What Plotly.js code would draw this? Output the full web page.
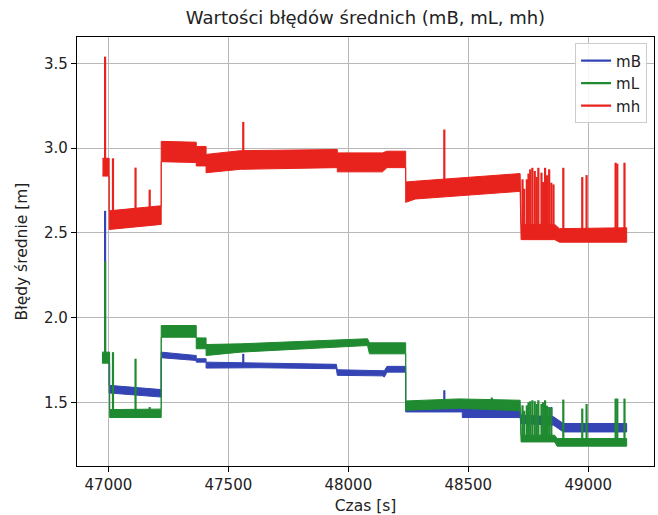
<!DOCTYPE html>
<html>
<head>
<meta charset="utf-8">
<script src="https://cdn.plot.ly/plotly-3.0.1.min.js"></script>
<style>html,body{margin:0;padding:0;background:#fff;}#chart{width:658px;height:515px;}</style>
</head>
<body>
<div id="chart"></div>
<script>
// ---- mB (blue) envelope of the dense series ----
var mB_x  = [46980, 47003, 47003, 47220, 47220, 47366, 47366, 47407, 47407, 47629, 47950, 47954, 48142, 48150, 48161, 48239, 48239, 48475, 48475, 48716, 48720, 48855, 48896, 49160];
var mB_lo = [1.74, 1.74, 1.555, 1.531, 1.763, 1.747, 1.737, 1.737, 1.702, 1.704, 1.698, 1.659, 1.656, 1.649, 1.678, 1.678, 1.443, 1.443, 1.41, 1.41, 1.375, 1.365, 1.325, 1.325];
var mB_hi = [1.79, 1.79, 1.60, 1.575, 1.796, 1.776, 1.757, 1.757, 1.737, 1.731, 1.724, 1.692, 1.686, 1.686, 1.712, 1.712, 1.472, 1.47, 1.463, 1.463, 1.424, 1.415, 1.375, 1.375];
var mB_spikeX    = [46986, 47562, 48400, 48846];
var mB_spikeBase = [1.78, 1.73, 1.47, 1.40];
var mB_spikeTop  = [2.63, 1.786, 1.571, 1.472];

// ---- mL (green) ----
var mL_x  = [46973, 47005, 47005, 47220, 47220, 47366, 47366, 47407, 47407, 47550, 48080, 48088, 48239, 48239, 48460, 48716, 48720, 48860, 48870, 49160];
var mL_lo = [1.731, 1.731, 1.41, 1.41, 1.884, 1.884, 1.816, 1.816, 1.776, 1.796, 1.835, 1.786, 1.786, 1.453, 1.465, 1.45, 1.266, 1.266, 1.241, 1.241];
var mL_hi = [1.796, 1.796, 1.457, 1.46, 1.953, 1.953, 1.880, 1.880, 1.841, 1.845, 1.875, 1.851, 1.851, 1.508, 1.52, 1.512, 1.306, 1.306, 1.286, 1.286];
var mL_spikeX    = [46986, 47019, 47113, 47172, 48598, 48726, 48733, 48744, 48751, 48758, 48767, 48777, 48785, 48792, 48805, 48812, 48820, 48828, 48837, 48846, 48896, 48975, 48993, 49114, 49121, 49151];
var mL_spikeBase = [1.76, 1.43, 1.43, 1.43, 1.48, 1.28, 1.28, 1.28, 1.28, 1.28, 1.28, 1.28, 1.28, 1.28, 1.28, 1.28, 1.28, 1.28, 1.28, 1.28, 1.26, 1.26, 1.26, 1.26, 1.26, 1.26];
var mL_spikeTop  = [2.33, 1.796, 1.757, 1.472, 1.528, 1.482, 1.45, 1.482, 1.50, 1.506, 1.512, 1.506, 1.49, 1.512, 1.49, 1.50, 1.512, 1.48, 1.472, 1.465, 1.516, 1.463, 1.49, 1.522, 1.522, 1.522];

// ---- mh (red) ----
var mh_x  = [46975, 47003, 47003, 47220, 47220, 47366, 47366, 47407, 47407, 47550, 47954, 47954, 48142, 48161, 48239, 48239, 48280, 48716, 48720, 48860, 48880, 49160];
var mh_lo = [2.835, 2.835, 2.52, 2.55, 2.92, 2.915, 2.895, 2.895, 2.855, 2.875, 2.885, 2.86, 2.86, 2.885, 2.885, 2.68, 2.70, 2.745, 2.46, 2.46, 2.445, 2.445];
var mh_hi = [2.94, 2.94, 2.63, 2.66, 3.04, 3.035, 3.01, 3.01, 2.963, 2.985, 2.992, 2.972, 2.972, 2.982, 2.982, 2.80, 2.805, 2.85, 2.55, 2.55, 2.525, 2.53];
var mh_spikeX    = [46986, 47019, 47113, 47172, 47562, 48400, 48726, 48733, 48744, 48751, 48758, 48767, 48777, 48785, 48792, 48805, 48812, 48820, 48828, 48837, 48846, 48855, 48896, 48975, 48993, 49114, 49121, 49151];
var mh_spikeBase = [2.84, 2.55, 2.55, 2.56, 2.95, 2.80, 2.48, 2.48, 2.48, 2.48, 2.48, 2.48, 2.48, 2.48, 2.48, 2.48, 2.48, 2.48, 2.48, 2.48, 2.48, 2.48, 2.46, 2.46, 2.46, 2.46, 2.46, 2.46];
var mh_spikeTop  = [3.54, 2.94, 2.885, 2.755, 3.155, 3.11, 2.816, 2.76, 2.816, 2.85, 2.875, 2.884, 2.865, 2.83, 2.884, 2.855, 2.80, 2.884, 2.84, 2.875, 2.796, 2.786, 2.884, 2.829, 2.841, 2.914, 2.908, 2.914];

var xTicks = [47000, 47500, 48000, 48500, 49000];
var yTicks = [1.5, 2.0, 2.5, 3.0, 3.5];

var COLORS = {mB: '#3444b4', mL: '#1f8a30', mh: '#e8221c'};

function bandTrace(x, lo, hi, color) {
  return {
    x: x.concat(x.slice().reverse()),
    y: hi.concat(lo.slice().reverse()),
    mode: 'lines', fill: 'toself', fillcolor: color,
    line: {color: color, width: 1},
    showlegend: false, hoverinfo: 'skip'
  };
}
function spikeTrace(name, sx, base, top, color) {
  var xs = [], ys = [];
  for (var i = 0; i < sx.length; i++) {
    xs.push(sx[i], sx[i], null);
    ys.push(base[i], top[i], null);
  }
  return {x: xs, y: ys, name: name, mode: 'lines', connectgaps: false,
          line: {color: color, width: 2.2}, hoverinfo: 'skip'};
}

var data = [
  bandTrace(mB_x, mB_lo, mB_hi, COLORS.mB),
  spikeTrace('mB', mB_spikeX, mB_spikeBase, mB_spikeTop, COLORS.mB),
  bandTrace(mL_x, mL_lo, mL_hi, COLORS.mL),
  spikeTrace('mL', mL_spikeX, mL_spikeBase, mL_spikeTop, COLORS.mL),
  bandTrace(mh_x, mh_lo, mh_hi, COLORS.mh),
  spikeTrace('mh', mh_spikeX, mh_spikeBase, mh_spikeTop, COLORS.mh)
];

var FONT = 'DejaVu Sans, sans-serif';
var layout = {
  width: 658, height: 515,
  margin: {l: 77, r: 4, t: 37, b: 49},
  paper_bgcolor: '#ffffff', plot_bgcolor: '#ffffff',
  font: {family: FONT, size: 15, color: '#222222'},
  title: {text: 'Wartości błędów średnich (mB, mL, mh)', font: {family: FONT, size: 18, color: '#222222'},
          xref: 'paper', x: 0.5, xanchor: 'center', y: 0.965, yanchor: 'middle'},
  xaxis: {
    range: [46869, 49274], tickvals: xTicks, ticktext: xTicks.map(String),
    showgrid: true, gridcolor: '#b8b8b8', gridwidth: 1,
    zeroline: false, showline: true, linecolor: '#000000', linewidth: 1.2, mirror: true,
    ticks: 'outside', ticklen: 5, tickwidth: 1.2, tickcolor: '#000000',
    tickfont: {family: FONT, size: 15, color: '#222222'},
    title: {text: 'Czas [s]', font: {family: FONT, size: 15.5, color: '#222222'}, standoff: 9},
    automargin: false
  },
  yaxis: {
    range: [1.124, 3.656], tickvals: yTicks, ticktext: yTicks.map(function(v){return v.toFixed(1);}),
    showgrid: true, gridcolor: '#b8b8b8', gridwidth: 1,
    zeroline: false, showline: true, linecolor: '#000000', linewidth: 1.2, mirror: true,
    ticks: 'outside', ticklen: 5, tickwidth: 1.2, tickcolor: '#000000',
    tickfont: {family: FONT, size: 15, color: '#222222'},
    title: {text: 'Błędy średnie [m]', font: {family: FONT, size: 15.5, color: '#222222'}, standoff: 12},
    automargin: false
  },
  legend: {
    x: 0.988, xanchor: 'right', y: 0.985, yanchor: 'top',
    bgcolor: 'rgba(255,255,255,0.85)', bordercolor: '#cccccc', borderwidth: 1,
    font: {family: FONT, size: 15, color: '#222222'},
    traceorder: 'normal', itemwidth: 30, tracegroupgap: 4
  },
  showlegend: true
};

Plotly.newPlot('chart', data, layout, {displayModeBar: false, staticPlot: true});
</script>
</body>
</html>
